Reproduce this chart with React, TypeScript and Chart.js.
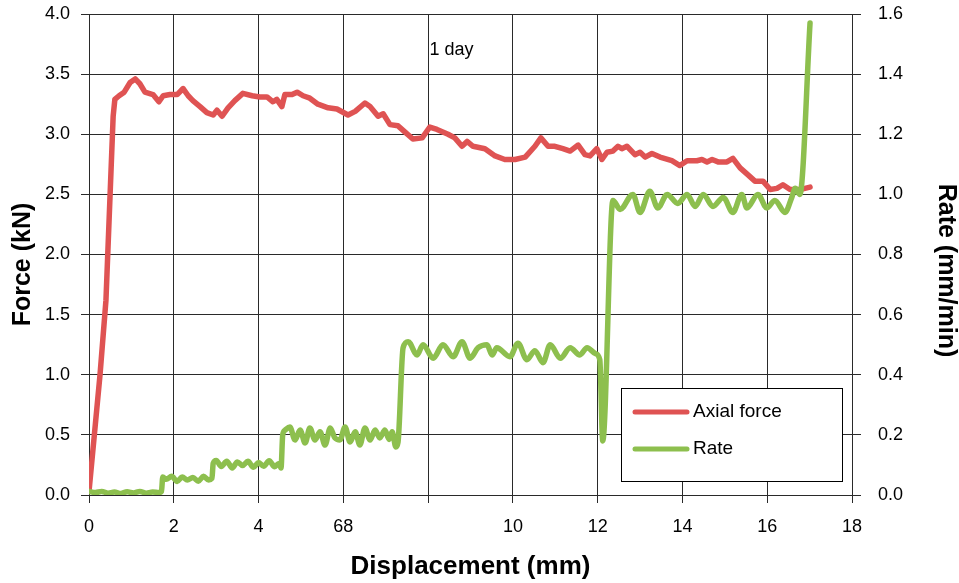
import React, { useEffect, useRef } from "react";
import { Chart, registerables } from "chart.js";

Chart.register(...registerables);

// ---- Data ----
const forceX = [0.0, 0.26, 0.4, 0.57, 0.61, 0.71, 0.83, 0.97, 1.09, 1.2, 1.32, 1.51, 1.65, 1.75, 1.91, 2.08, 2.22, 2.34, 2.45, 2.62, 2.78, 2.93, 3.02, 3.14, 3.28, 3.44, 3.63, 3.85, 4.03, 4.2, 4.34, 4.43, 4.55, 4.62, 4.79, 4.91, 5.05, 5.21, 5.4, 5.64, 5.85, 6.11, 6.28, 6.51, 6.63, 6.82, 6.94, 7.1, 7.29, 7.45, 7.64, 7.86, 8.04, 8.21, 8.47, 8.63, 8.8, 8.92, 9.06, 9.34, 9.58, 9.81, 10.05, 10.29, 10.52, 10.66, 10.83, 10.99, 11.18, 11.35, 11.54, 11.7, 11.82, 11.98, 12.1, 12.22, 12.36, 12.48, 12.57, 12.69, 12.88, 13.0, 13.12, 13.28, 13.47, 13.75, 13.94, 14.11, 14.34, 14.46, 14.58, 14.7, 14.84, 15.05, 15.19, 15.36, 15.52, 15.71, 15.9, 16.07, 16.23, 16.37, 16.54, 16.77, 17.01];
const forceY = [0.03, 1.0, 1.62, 3.15, 3.29, 3.32, 3.35, 3.43, 3.46, 3.42, 3.35, 3.33, 3.27, 3.32, 3.33, 3.33, 3.38, 3.32, 3.28, 3.23, 3.18, 3.16, 3.2, 3.15, 3.22, 3.28, 3.34, 3.32, 3.31, 3.31, 3.27, 3.29, 3.23, 3.33, 3.33, 3.35, 3.32, 3.3, 3.25, 3.22, 3.21, 3.16, 3.19, 3.26, 3.23, 3.15, 3.17, 3.08, 3.07, 3.02, 2.96, 2.97, 3.06, 3.04, 3.0, 2.97, 2.9, 2.94, 2.9, 2.88, 2.82, 2.79, 2.79, 2.81, 2.9, 2.97, 2.9, 2.9, 2.88, 2.86, 2.91, 2.83, 2.82, 2.88, 2.79, 2.85, 2.86, 2.9, 2.88, 2.9, 2.83, 2.85, 2.81, 2.84, 2.81, 2.78, 2.74, 2.78, 2.78, 2.79, 2.77, 2.79, 2.77, 2.77, 2.8, 2.72, 2.67, 2.61, 2.61, 2.54, 2.55, 2.58, 2.54, 2.54, 2.56];

const rateX = [0.0, 0.15, 0.3, 0.45, 0.6, 0.75, 0.9, 1.05, 1.2, 1.35, 1.5, 1.65, 1.71, 1.74, 1.82, 1.95, 2.08, 2.2, 2.32, 2.45, 2.58, 2.7, 2.82, 2.9, 2.93, 3.0, 3.12, 3.25, 3.38, 3.5, 3.62, 3.75, 3.88, 4.0, 4.12, 4.25, 4.38, 4.48, 4.53, 4.57, 4.62, 4.74, 4.86, 4.98, 5.1, 5.21, 5.33, 5.45, 5.57, 5.69, 5.8, 5.92, 6.04, 6.16, 6.28, 6.39, 6.51, 6.63, 6.75, 6.86, 6.98, 7.08, 7.15, 7.24, 7.29, 7.41, 7.53, 7.74, 7.88, 8.12, 8.35, 8.59, 8.8, 8.99, 9.18, 9.39, 9.51, 9.62, 9.93, 10.12, 10.33, 10.52, 10.71, 10.88, 11.12, 11.35, 11.58, 11.75, 11.95, 12.05, 12.12, 12.36, 12.53, 12.83, 13.0, 13.23, 13.42, 13.64, 13.89, 14.11, 14.3, 14.49, 14.72, 14.96, 15.19, 15.4, 15.52, 15.78, 15.99, 16.18, 16.42, 16.58, 16.66, 16.77, 17.01];
const rateY = [0.012, 0.008, 0.012, 0.006, 0.01, 0.005, 0.011, 0.007, 0.012, 0.006, 0.01, 0.008, 0.012, 0.06, 0.052, 0.062, 0.045, 0.06, 0.05, 0.058, 0.046, 0.062, 0.05, 0.055, 0.105, 0.115, 0.095, 0.112, 0.09, 0.11, 0.098, 0.112, 0.092, 0.108, 0.096, 0.114, 0.094, 0.105, 0.09, 0.2, 0.215, 0.226, 0.183, 0.216, 0.173, 0.223, 0.183, 0.21, 0.166, 0.223, 0.19, 0.183, 0.226, 0.176, 0.21, 0.166, 0.223, 0.183, 0.216, 0.19, 0.216, 0.185, 0.21, 0.16, 0.175, 0.49, 0.51, 0.466, 0.5, 0.455, 0.5, 0.46, 0.51, 0.455, 0.49, 0.5, 0.466, 0.49, 0.46, 0.505, 0.45, 0.48, 0.44, 0.5, 0.455, 0.49, 0.466, 0.49, 0.47, 0.45, 0.18, 0.98, 0.95, 1.0, 0.94, 1.01, 0.955, 1.0, 0.97, 1.0, 0.96, 1.0, 0.96, 0.99, 0.94, 1.0, 0.955, 1.0, 0.955, 0.98, 0.94, 0.99, 1.02, 1.0, 1.57];

const seriesLabels = ["Axial force", "Rate"];
const xTickLabels = ["0", "2", "4", "68", "", "10", "12", "14", "16", "18"];
const xTitle = "Displacement (mm)";
const yTitle = "Force (kN)";
const y1Title = "Rate (mm/min)";
const annotText = "1 day";
const annotX = 8.03;
const annotY = 3.66;

const FONT = '"Liberation Sans", Arial, Helvetica, sans-serif';
const RED = "#DF5353";
const GREEN = "#8DBF4E";
const GRID = "#2a2a2a";

const overlayPlugin = {
  id: "overlay",
  afterDraw(chart: any) {
    const ctx = chart.ctx as CanvasRenderingContext2D;
    const xs = chart.scales.x;
    const ys = chart.scales.y;
    const area = chart.chartArea;
    ctx.save();
    // annotation
    ctx.font = `18px ${FONT}`;
    ctx.fillStyle = "#000";
    ctx.textAlign = "left";
    ctx.textBaseline = "alphabetic";
    ctx.fillText(annotText, xs.getPixelForValue(annotX), ys.getPixelForValue(annotY));

    // y axis titles (rotated)
    const midY = (area.top + area.bottom) / 2;
    ctx.font = `bold 25px ${FONT}`;
    ctx.textAlign = "center";
    ctx.textBaseline = "middle";
    ctx.save();
    ctx.translate(23, midY + 10);
    ctx.rotate(-Math.PI / 2);
    ctx.fillText(yTitle, 0, 0);
    ctx.restore();
    ctx.save();
    ctx.translate(946, midY + 16);
    ctx.rotate(Math.PI / 2);
    ctx.fillText(y1Title, 0, 0);
    ctx.restore();

    // legend box
    const bx = 621, by = 388, bw = 221, bh = 93;
    ctx.fillStyle = "#fff";
    ctx.fillRect(bx, by, bw, bh);
    ctx.strokeStyle = "#000";
    ctx.lineWidth = 1;
    ctx.strokeRect(bx + 0.5, by + 0.5, bw, bh);
    ctx.textAlign = "left";
    chart.data.datasets.forEach((ds: any, i: number) => {
      const y = by + 24 + i * 37;
      ctx.strokeStyle = ds.borderColor;
      ctx.lineWidth = 5;
      ctx.lineCap = "round";
      ctx.beginPath();
      ctx.moveTo(bx + 14, y);
      ctx.lineTo(bx + 66, y);
      ctx.stroke();
      ctx.fillStyle = "#000";
      ctx.font = `19px ${FONT}`;
      ctx.textBaseline = "middle";
      ctx.fillText(ds.label, bx + 72, y);
    });
    ctx.restore();
  },
};

const fitY = (w: number) => (s: any) => {
  s.width = w;
  s.paddingTop = 0;
  s.paddingBottom = 0;
};

export default function App() {
  const ref = useRef<HTMLCanvasElement | null>(null);
  useEffect(() => {
    if (!ref.current) return;
    const forceData = forceX.map((x, i) => ({ x, y: forceY[i] }));
    const rateData = rateX.map((x, i) => ({ x, y: rateY[i] }));
    const chart = new Chart(ref.current, {
      type: "line",
      data: {
        datasets: [
          {
            label: seriesLabels[0],
            data: forceData,
            yAxisID: "y",
            borderColor: RED,
            backgroundColor: RED,
            borderWidth: 5.5,
            pointRadius: 0,
            tension: 0,
            borderJoinStyle: "round",
            borderCapStyle: "round",
            order: 1,
          },
          {
            label: seriesLabels[1],
            data: rateData,
            yAxisID: "y1",
            borderColor: GREEN,
            backgroundColor: GREEN,
            borderWidth: 5.5,
            pointRadius: 0,
            cubicInterpolationMode: "monotone",
            borderJoinStyle: "round",
            borderCapStyle: "round",
            order: 0,
          },
        ],
      },
      options: {
        animation: false,
        responsive: true,
        maintainAspectRatio: false,
        layout: { padding: { top: 14, left: 0, right: 0, bottom: 0 } },
        plugins: { legend: { display: false }, tooltip: { enabled: false } },
        scales: {
          x: {
            type: "linear",
            min: 0,
            max: 18,
            ticks: {
              stepSize: 2,
              color: "#000",
              font: { family: FONT, size: 18 },
              padding: 13,
              maxRotation: 0,
              callback: (v: any) => xTickLabels[Math.round(Number(v) / 2)] ?? "",
            },
            grid: { color: GRID, lineWidth: 1, tickLength: 8, tickColor: GRID },
            border: { display: true, color: GRID, width: 1 },
            title: {
              display: true,
              text: xTitle,
              color: "#000",
              font: { family: FONT, size: 26, weight: "bold", lineHeight: 1 },
              padding: { top: 0, bottom: 3 },
            },
            afterFit: (s: any) => { s.height = 88; s.paddingLeft = 0; s.paddingRight = 0; },
          },
          y: {
            type: "linear",
            position: "left",
            min: 0,
            max: 4,
            ticks: {
              stepSize: 0.5,
              color: "#000",
              font: { family: FONT, size: 18 },
              padding: 11,
              callback: (v: any) => Number(v).toFixed(1),
            },
            grid: { color: GRID, lineWidth: 1, tickLength: 8, tickColor: GRID },
            border: { display: true, color: GRID, width: 1 },
            title: { display: false, text: yTitle },
            afterFit: fitY(89),
          },
          y1: {
            type: "linear",
            position: "right",
            min: 0,
            max: 1.6,
            ticks: {
              stepSize: 0.2,
              color: "#000",
              font: { family: FONT, size: 18 },
              padding: 17,
              callback: (v: any) => Number(v).toFixed(1),
            },
            grid: { drawOnChartArea: false, color: GRID, lineWidth: 1, tickLength: 9, tickColor: GRID },
            border: { display: true, color: GRID, width: 1 },
            title: { display: false, text: y1Title },
            afterFit: fitY(107),
          },
        },
      },
      plugins: [overlayPlugin],
    });
    return () => chart.destroy();
  }, []);
  return (
    <div style={{ position: "fixed", left: 0, top: 0, width: 959, height: 583, background: "#fff" }}>
      <canvas ref={ref} />
    </div>
  );
}
